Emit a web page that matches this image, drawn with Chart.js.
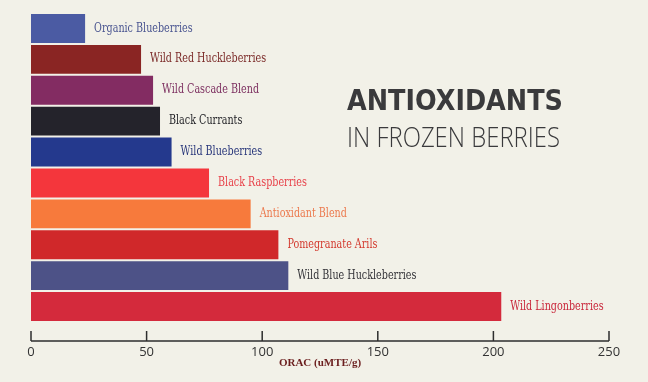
<!DOCTYPE html>
<html>
<head>
<meta charset="utf-8">
<script src="https://cdn.jsdelivr.net/npm/chart.js@4"></script>
<style>
  html, body { margin: 0; padding: 0; background: #f2f1e8; }
  #wrap { width: 648px; height: 382px; }
</style>
</head>
<body>
<div id="wrap"><canvas id="chart" width="648" height="382"></canvas></div>
<script>
const berries = ["Organic Blueberries","Wild Red Huckleberries","Wild Cascade Blend","Black Currants","Wild Blueberries","Black Raspberries","Antioxidant Blend","Pomegranate Arils","Wild Blue Huckleberries","Wild Lingonberries"];
const orac = [23.4, 47.6, 52.8, 55.8, 60.8, 77, 95, 107, 111.3, 203.4];
const barColors = ["#4b5ba3","#8a2523","#832c62","#24232b","#24398d","#f4363c","#f77a3c","#d0282a","#4d5287","#d42a3c"];
const labelColors = ["#4a5590","#7b2a28","#7d3060","#1f1f24","#28367a","#e8424a","#ec7a4e","#d33a2e","#333338","#c9263a"];
const xTicks = [0, 50, 100, 150, 200, 250];
const titleLines = ["ANTIOXIDANTS", "IN FROZEN BERRIES"];
const axisTitle = "ORAC (uMTE/g)";

// text squeezed horizontally to a given width
function fitText(ctx, text, x, y, width){
  const w = ctx.measureText(text).width;
  ctx.save();
  ctx.translate(x, y);
  ctx.scale(width / w, 1);
  ctx.fillText(text, 0, 0);
  ctx.restore();
}

// names next to each bar
const barLabels = {
  id: 'barLabels',
  afterDatasetsDraw(chart){
    const ctx = chart.ctx;
    const bars = chart.getDatasetMeta(0).data;
    ctx.save();
    ctx.font = '12px "DejaVu Serif"';
    ctx.textBaseline = 'middle';
    ctx.textAlign = 'left';
    const sx = 98.5 / ctx.measureText(berries[0]).width;
    bars.forEach((bar, i) => {
      ctx.fillStyle = labelColors[i];
      ctx.save();
      ctx.translate(bar.x + 9, bar.y);
      ctx.scale(sx, 1);
      ctx.fillText(berries[i], 0, 0);
      ctx.restore();
    });
    ctx.restore();
  }
};

// axis line with upward ticks, plus the heading
const axisAndTitle = {
  id: 'axisAndTitle',
  afterDraw(chart){
    const ctx = chart.ctx;
    const x = chart.scales.x;
    const y = chart.chartArea.bottom + 19;
    ctx.save();
    ctx.strokeStyle = '#2e2e2e';
    ctx.lineWidth = 1.5;
    ctx.beginPath();
    ctx.moveTo(x.getPixelForValue(xTicks[0]), y);
    ctx.lineTo(x.getPixelForValue(xTicks[xTicks.length - 1]), y);
    xTicks.forEach(v => {
      const px = x.getPixelForValue(v);
      ctx.moveTo(px, y);
      ctx.lineTo(px, y - 10);
    });
    ctx.stroke();

    ctx.fillStyle = '#3a3a3c';
    ctx.textBaseline = 'alphabetic';
    ctx.textAlign = 'left';
    ctx.font = 'bold 29px "DejaVu Sans"';
    fitText(ctx, titleLines[0], 347, 110, 216);
    ctx.font = '300 28px "Open Sans"';
    fitText(ctx, titleLines[1], 347, 147, 213);
    ctx.restore();
  }
};

new Chart(document.getElementById('chart'), {
  type: 'bar',
  data: {
    labels: berries,
    datasets: [{
      data: orac,
      backgroundColor: barColors,
      borderWidth: 0,
      barPercentage: 0.935,
      categoryPercentage: 1
    }]
  },
  options: {
    indexAxis: 'y',
    responsive: false,
    animation: false,
    layout: { padding: { left: 31, right: 39, top: 13, bottom: 0 } },
    plugins: { legend: { display: false }, tooltip: { enabled: false } },
    scales: {
      y: { display: false },
      x: {
        min: 0,
        max: 250,
        afterFit: s => { s.height = 60; },
        afterBuildTicks: s => { s.ticks = xTicks.map(v => ({ value: v })); },
        grid: { display: false, drawTicks: false },
        border: { display: false },
        ticks: {
          padding: 22,
          color: '#333',
          font: { family: '"Open Sans"', size: 13 }
        },
        title: {
          display: true,
          text: axisTitle,
          color: '#6b1e1e',
          padding: { top: 0, bottom: 12 },
          font: { family: '"Liberation Serif"', size: 11, weight: 'bold' }
        }
      }
    }
  },
  plugins: [barLabels, axisAndTitle]
});
</script>
</body>
</html>
